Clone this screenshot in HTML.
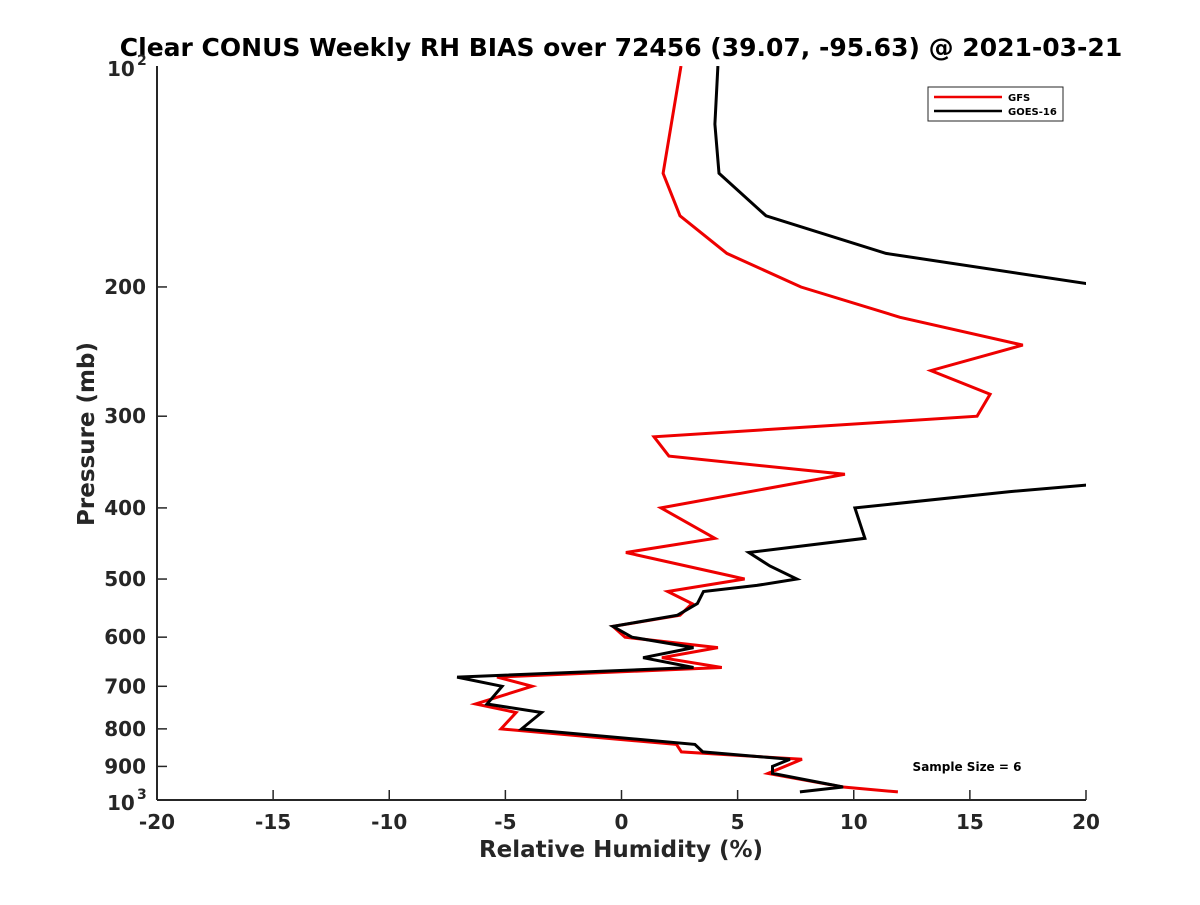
<!DOCTYPE html>
<html><head><meta charset="utf-8"><style>
body{margin:0;background:#fff;}
svg text{font-family:"DejaVu Sans","Liberation Sans",sans-serif;font-weight:bold;fill:#262626;}
</style></head><body>
<svg id="chart" width="1200" height="900" xmlns="http://www.w3.org/2000/svg">
<defs><clipPath id="clip"><rect x="157" y="66" width="929" height="734"/></clipPath></defs>
<rect width="1200" height="900" fill="#fff"/>
<text x="621" y="56" font-size="25" text-anchor="middle" style="fill:#000">Clear CONUS Weekly RH BIAS over 72456 (39.07, -95.63) @ 2021-03-21</text>
<g id="axes"></g>
<g id="series" clip-path="url(#clip)"></g>
<text x="621" y="857" font-size="23" text-anchor="middle">Relative Humidity (%)</text>
<text transform="translate(94,434) rotate(-90)" font-size="23" text-anchor="middle">Pressure (mb)</text>
<g>
<rect x="928" y="87" width="135" height="34" fill="#fff" stroke="#262626" stroke-width="1"/>
<line x1="934" y1="97" x2="1002" y2="97" stroke="#ee0000" stroke-width="2.5"/>
<text x="1008" y="101" font-size="10" style="fill:#000">GFS</text>
<line x1="934" y1="111" x2="1002" y2="111" stroke="#000" stroke-width="2.5"/>
<text x="1008" y="115" font-size="10" style="fill:#000">GOES-16</text>
</g>
<text x="967" y="771" font-size="12" text-anchor="middle" style="fill:#000">Sample Size = 6</text>
</svg>
<script>
const xTicks=[-20,-15,-10,-5,0,5,10,15,20];
const yTicks=[200,300,400,500,600,700,800,900];
const gfsP=[100,140,160,180,200,220,240,260,280,300,320,340,360,400,440,460,500,520,540,560,580,600,620,640,660,680,700,740,760,800,840,860,880,920,960,975];
const gfsV=[2.56,1.79,2.52,4.54,7.73,11.99,17.28,13.32,15.87,15.31,1.4,2.04,9.62,1.7,4.02,0.19,5.3,1.99,3.04,2.52,-0.37,0.15,4.15,1.74,4.32,-5.36,-3.85,-6.28,-4.54,-5.19,2.37,2.58,7.77,6.31,9.54,11.9];
const goesP=[100,120,140,160,180,200,370,380,400,440,460,480,500,510,520,540,560,580,600,620,640,660,680,700,740,760,800,840,860,880,900,920,960,975];
const goesV=[4.15,4.02,4.2,6.22,11.39,21,21,16.73,10.05,10.48,5.48,6.39,7.55,5.83,3.53,3.27,2.41,-0.37,0.45,3.1,0.93,3.1,-7.08,-5.14,-5.79,-3.44,-4.3,3.16,3.5,7.25,6.5,6.5,9.54,7.68];
const NS='http://www.w3.org/2000/svg';
const X=v=>157+(v+20)*929/40;
const Y=p=>66+Math.log10(p/100)*734;
function mk(t,a,parent){const e=document.createElementNS(NS,t);for(const k in a)e.setAttribute(k,a[k]);parent.appendChild(e);return e;}
const ax=document.getElementById('axes');
const xl=mk('line',{x1:157,y1:800,x2:1086,y2:800,stroke:'#262626','stroke-width':2},ax);


const yl=mk('line',{x1:157,y1:66,x2:157,y2:800,stroke:'#262626','stroke-width':2},ax);


xTicks.forEach(v=>{
 mk('line',{x1:X(v),y1:800,x2:X(v),y2:790,stroke:'#262626','stroke-width':1.5},ax);
 const t=mk('text',{x:X(v),y:829,'font-size':20,'text-anchor':'middle'},ax);
 t.textContent=String(v);
 
 
});
yTicks.forEach(p=>{
 mk('line',{x1:157,y1:Y(p),x2:167,y2:Y(p),stroke:'#262626','stroke-width':1.5},ax);
 const t=mk('text',{x:146,y:Y(p)+7,'font-size':20,'text-anchor':'end'},ax);
 t.textContent=String(p);
 
 
});
[[100,'2'],[1000,'3']].forEach(([p,e])=>{
 const t=mk('text',{x:107,y:Y(p)+10,'font-size':20},ax);
 t.textContent='10';
 
 
 const s=mk('text',{x:137,y:Y(p)-1,'font-size':14},ax);
 s.textContent=e;
});
const sg=document.getElementById('series');
function line(P,V,color,name){
 const pts=P.map((p,i)=>X(V[i]).toFixed(1)+','+Y(p).toFixed(1)).join(' ');
 const pl=mk('polyline',{points:pts,fill:'none',stroke:color,'stroke-width':3,'stroke-linejoin':'miter'},sg);
 
 
}
line(gfsP,gfsV,'#ee0000','gfs-line');
line(goesP,goesV,'#000','goes16-line');
</script>
</body></html>
